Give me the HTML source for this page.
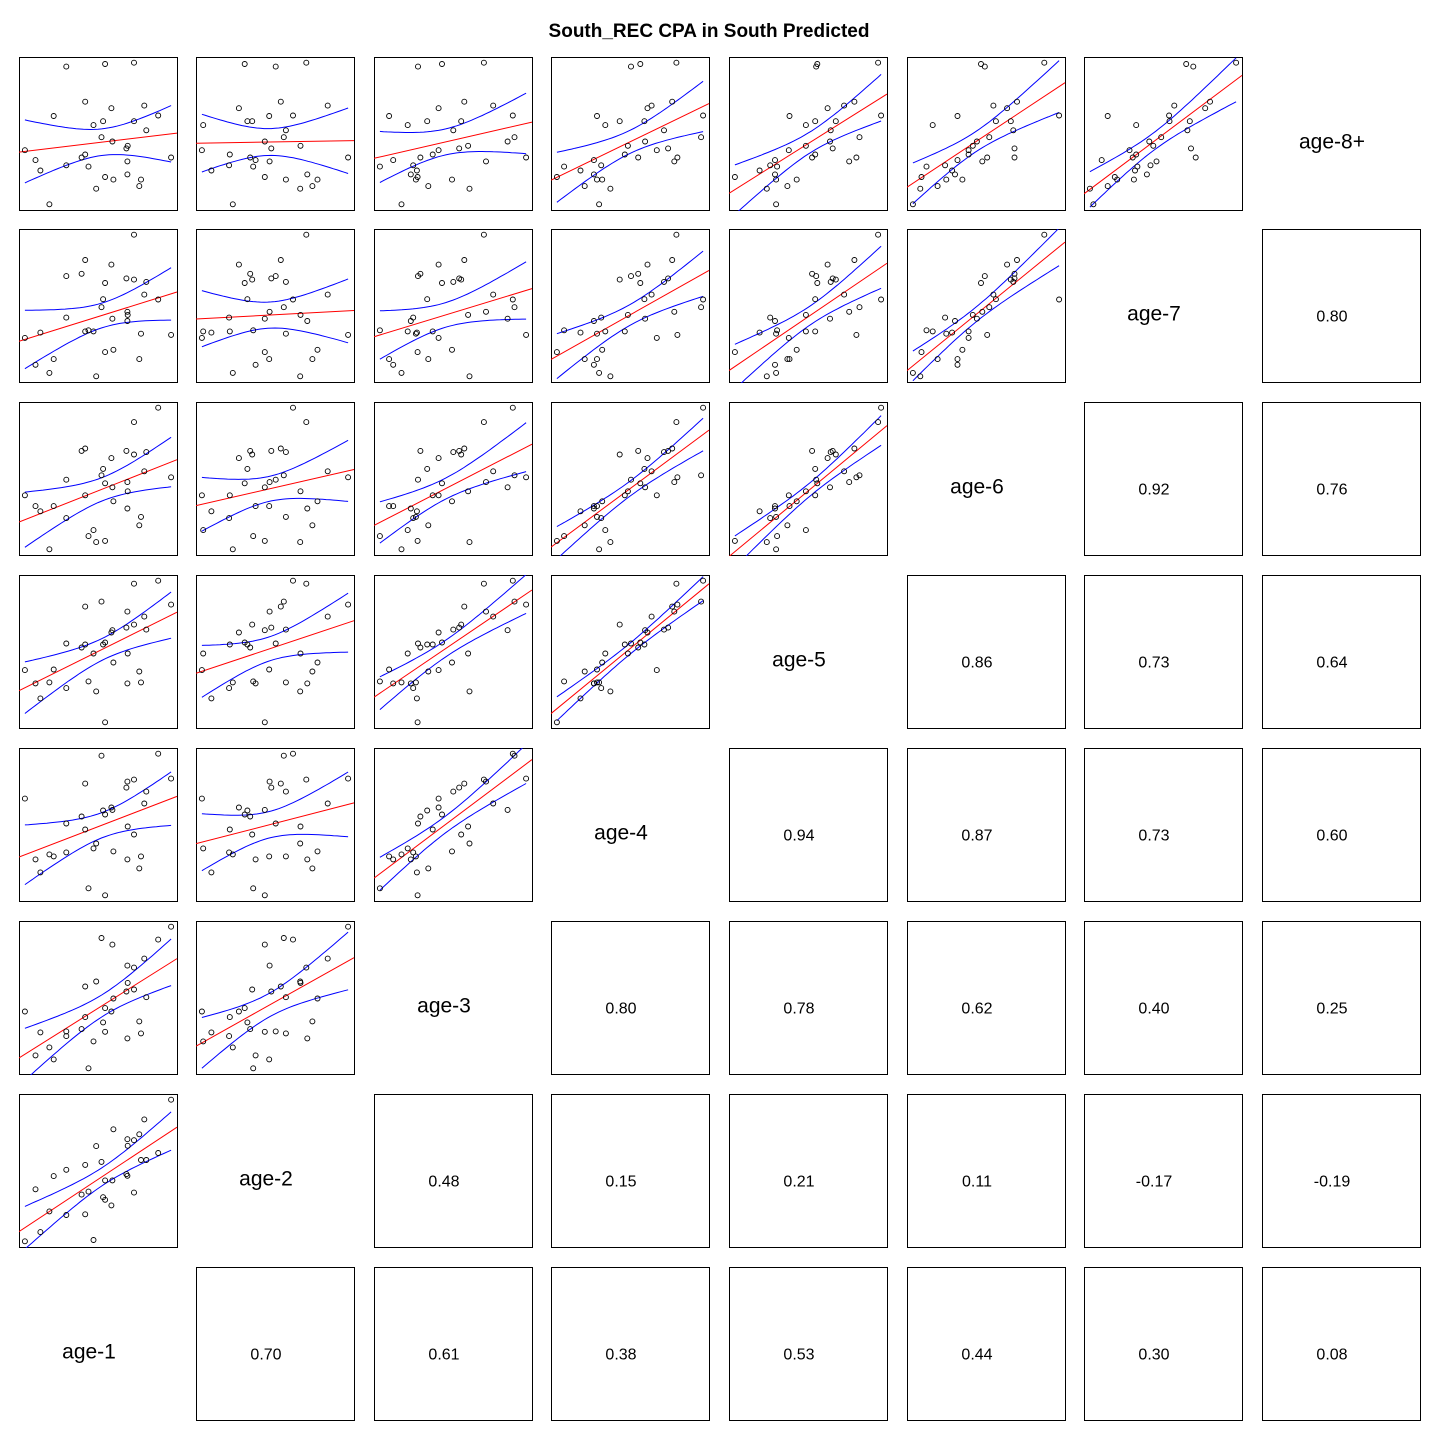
<!DOCTYPE html>
<html><head><meta charset="utf-8"><title>South_REC CPA pairs</title>
<style>html,body{margin:0;padding:0;background:#fff;}svg{display:block;font-family:"Liberation Sans",Arial,sans-serif;}</style>
</head><body>
<svg id="chart" width="1440" height="1440" viewBox="0 0 1440 1440">
<text x="709" y="37" text-anchor="middle" font-size="19" font-weight="bold">South_REC CPA in South Predicted</text>
</svg>
<script>
const varNames = ["age-1","age-2","age-3","age-4","age-5","age-6","age-7","age-8+"];
const age1 = [28,60,75,102,115,153,153,199,210,210,220,235,243,259,264,270,270,289,292,295,334,337,337,338,357,357,373,378,388,394,430,469];
const age2 = [458,300,430,367,260,241,378,316,226,376,307,454,169,217,324,332,273,349,273,118,254,259,148,168,151,310,133,211,88,211,190,28];
const age3 = [286,418,349,394,430,346,360,339,211,303,457,376,196,65,319,276,347,286,85,247,226,148,367,200,154,220,316,352,127,243,70,31];
const age4 = [166,349,388,334,340,241,328,220,121,259,436,316,301,37,202,214,457,193,200,325,133,115,349,250,109,274,376,340,181,145,31,106];
const age5 = [300,340,385,337,298,220,354,232,109,223,334,250,364,94,223,217,457,187,180,277,172,124,340,250,40,163,304,337,139,178,31,103];
const age6 = [250,277,290,385,277,211,307,139,133,250,352,337,367,200,184,220,364,157,230,265,139,217,283,240,67,148,325,304,190,142,31,205];
const age7 = [300,370,286,391,355,139,247,133,97,283,280,283,400,220,199,157,337,109,250,331,145,232,256,240,31,148,355,289,187,154,200,292];
const age8 = [230,253,277,355,151,37,265,247,118,240,268,172,319,200,163,31,292,133,210,298,226,256,286,220,28,163,313,298,127,184,150,247];
// printed correlation values: corrLabels[row variable][column variable]
const corrAge1 = ["0.70","0.61","0.38","0.53","0.44","0.30","0.08"];
const corrAge2 = ["0.48","0.15","0.21","0.11","-0.17","-0.19"];
const corrAge3 = ["0.80","0.78","0.62","0.40","0.25"];
const corrAge4 = ["0.94","0.87","0.73","0.60"];
const corrAge5 = ["0.86","0.73","0.64"];
const corrAge6 = ["0.92","0.76"];
const corrAge7 = ["0.80"];

const NS = "http://www.w3.org/2000/svg";
const svg = document.getElementById("chart");
const vars = [age1, age2.map(v=>480-v), age3.map(v=>480-v), age4.map(v=>480-v), age5.map(v=>480-v), age6.map(v=>480-v), age7.map(v=>480-v), age8.map(v=>480-v)];
const corrs = [corrAge1, corrAge2, corrAge3, corrAge4, corrAge5, corrAge6, corrAge7];
const colL = [19,196,374,551,729,907,1084,1262];
const rowT = [57,229,402,575,748,921,1094,1267];
const PW = 158, PH = 153;

function mk(tag, attrs){const e=document.createElementNS(NS,tag);for(const k in attrs)e.setAttribute(k,attrs[k]);return e;}
function range(a){let lo=Math.min(...a),hi=Math.max(...a);const d=(hi-lo)*0.04;return [lo-d,hi+d];}

for(let r=0;r<8;r++){
  const v = 7-r;
  for(let c=0;c<8;c++){
    const x0=colL[c], y0=rowT[r];
    const g=mk("g",{});
    if(c===v){
      
      
      const t=mk("text",{x:x0+PW/2-9,y:y0+PH/2+15,"text-anchor":"middle","font-size":"21"});
      t.textContent=varNames[v];
      g.appendChild(t);svg.appendChild(g);continue;
    }
    g.appendChild(mk("rect",{x:x0+0.5,y:y0+0.5,width:PW,height:PH,fill:"none",stroke:"#000","stroke-width":"1"}));
    if(c>v){
      
      
      const t=mk("text",{x:x0+PW/2-9,y:y0+PH/2+16,"text-anchor":"middle","font-size":"16"});
      t.textContent=corrs[v][c-v-1];
      g.appendChild(t);svg.appendChild(g);continue;
    }
    
    
    const xs=vars[c], ys=vars[v];
    const [xl,xh]=range(xs),[yl,yh]=range(ys);
    const sx=x=>x0+(x-xl)/(xh-xl)*PW, sy=y=>y0+PH-(y-yl)/(yh-yl)*PH;
    const n=xs.length;
    const mx=xs.reduce((a,b)=>a+b)/n, my=ys.reduce((a,b)=>a+b)/n;
    let sxx=0,sxy=0;for(let i=0;i<n;i++){sxx+=(xs[i]-mx)**2;sxy+=(xs[i]-mx)*(ys[i]-my);}
    const b=sxy/sxx,a=my-b*mx;
    let sse=0;for(let i=0;i<n;i++){sse+=(ys[i]-a-b*xs[i])**2;}
    const s=Math.sqrt(sse/(n-2)), tq=2.04;
    const clipId='clip'+r+'_'+c;
    const cp=mk("clipPath",{id:clipId});cp.appendChild(mk("rect",{x:x0,y:y0,width:PW+1,height:PH+1}));g.appendChild(cp);
    const inner=mk("g",{"clip-path":"url(#"+clipId+")"});
    const minx=Math.min(...xs),maxx=Math.max(...xs);
    let up="",lo="";
    for(let k=0;k<=40;k++){
      const x=minx+(maxx-minx)*k/40, yh2=a+b*x, h=tq*s*Math.sqrt(1/n+(x-mx)**2/sxx);
      up+=(k?"L":"M")+sx(x).toFixed(1)+","+sy(yh2+h).toFixed(1);
      lo+=(k?"L":"M")+sx(x).toFixed(1)+","+sy(yh2-h).toFixed(1);
    }
    const bu=mk("path",{d:up,fill:"none",stroke:"#0000ff","stroke-width":"1"});
    
    
    const bl=mk("path",{d:lo,fill:"none",stroke:"#0000ff","stroke-width":"1"});
    
    
    const rl=mk("line",{x1:sx(xl),y1:sy(a+b*xl),x2:sx(xh),y2:sy(a+b*xh),stroke:"#ff0000","stroke-width":"1"});
    
    
    inner.appendChild(bu);inner.appendChild(bl);inner.appendChild(rl);
    for(let i=0;i<n;i++){
      const p=mk("circle",{cx:sx(xs[i]).toFixed(1),cy:sy(ys[i]).toFixed(1),r:"2.5",fill:"none",stroke:"#000","stroke-width":"0.9"});
      
      
      inner.appendChild(p);
    }
    g.appendChild(inner);svg.appendChild(g);
  }
}
</script>
</body></html>
